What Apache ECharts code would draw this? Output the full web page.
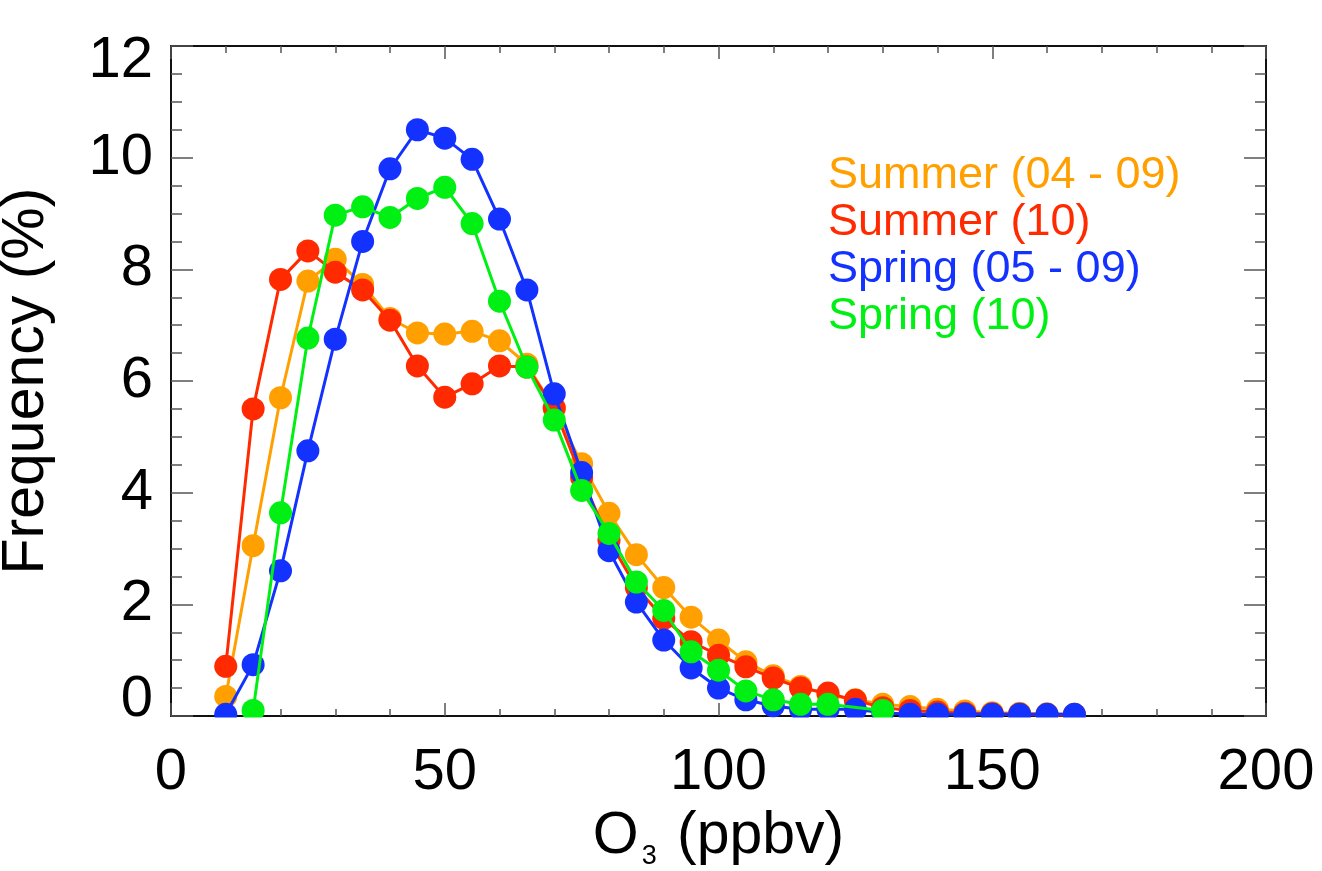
<!DOCTYPE html>
<html>
<head>
<meta charset="utf-8">
<script src="https://cdn.jsdelivr.net/npm/echarts@6/dist/echarts.min.js"></script>
<style>
html,body{margin:0;padding:0;background:#fff;}
#chart{width:1322px;height:871px;}
</style>
</head>
<body>
<div id="chart"></div>
<script>
// ---- data ----
var seriesNames = ['Summer (04 - 09)', 'Summer (10)', 'Spring (05 - 09)', 'Spring (10)'];
var seriesColors = ['#FFA000', '#FF2A00', '#1432FF', '#00F014'];

var summer0409X = [10,15,20,25,30,35,40,45,50,55,60,65,70,75,80,85,90,95,100,105,110,115,120,125,130,135,140,145,150,155,160,165];
var summer0409Y = [0.35,3.05,5.70,7.79,8.18,7.73,7.12,6.86,6.84,6.89,6.72,6.30,5.50,4.52,3.63,2.89,2.30,1.77,1.36,0.97,0.72,0.53,0.38,0.29,0.21,0.17,0.12,0.09,0.06,0.05,0.04,0.03];

var summer10X = [10,15,20,25,30,35,40,45,50,55,60,65,70,75,80,85,90,95,100,105,110,115,120,125,130,135,140,145,150,155,160,165];
var summer10Y = [0.89,5.50,7.82,8.33,7.95,7.63,7.09,6.27,5.71,5.95,6.27,6.25,5.52,4.27,3.15,2.30,1.75,1.33,1.09,0.88,0.68,0.50,0.41,0.28,0.15,0.10,0.07,0.05,0.04,0.03,0.02,0.02];

var spring0509X = [10,15,20,25,30,35,40,45,50,55,60,65,70,75,80,85,90,95,100,105,110,115,120,125,130,135,140,145,150,155,160,165];
var spring0509Y = [0.03,0.92,2.60,4.75,6.75,8.50,9.80,10.50,10.35,9.97,8.90,7.63,5.77,4.36,2.96,2.04,1.36,0.86,0.50,0.29,0.18,0.12,0.12,0.12,0.06,0.03,0.03,0.03,0.03,0.03,0.03,0.03];

var spring10X = [15,20,25,30,35,40,45,50,55,60,65,70,75,80,85,90,95,100,105,110,115,120,130];
var spring10Y = [0.10,3.64,6.77,8.97,9.12,8.93,9.27,9.47,8.82,7.43,6.25,5.30,4.04,3.27,2.40,1.89,1.15,0.82,0.45,0.29,0.21,0.21,0.10];

var xTicks = [0, 50, 100, 150, 200];
var yTicks = [0, 2, 4, 6, 8, 10, 12];

// ---- layout ----
var G = {left: 171, top: 46, right: 56, bottom: 155};
var FONT = '"Liberation Sans", Arial, Helvetica, sans-serif';

function pairs(xs, ys) { return xs.map(function (x, i) { return [x, ys[i]]; }); }
var allX = [summer0409X, summer10X, spring0509X, spring10X];
var allY = [summer0409Y, summer10Y, spring0509Y, spring10Y];

var chart = echarts.init(document.getElementById('chart'), null, {renderer: 'canvas'});

var axisLineStyle = {color: '#111', width: 2};
var tickStyle = {color: '#555', width: 1.5};

var option = {
  animation: false,
  backgroundColor: '#fff',
  grid: {left: G.left, top: G.top, right: G.right, bottom: G.bottom, containLabel: false, outerBoundsMode: 'none'},
  legend: {
    orient: 'vertical',
    left: 818,
    top: 148,
    icon: 'none',
    itemWidth: 0,
    itemHeight: 0,
    itemGap: 2,
    selectedMode: false,
    textStyle: {fontFamily: FONT, fontSize: 45},
    data: seriesNames.map(function (n, i) { return {name: n, textStyle: {color: seriesColors[i]}}; })
  },
  xAxis: [{
    type: 'value', min: xTicks[0], max: xTicks[xTicks.length - 1], interval: 50,
    position: 'bottom',
    name: '{a|O}{b|3}{a| (ppbv)}',
    nameLocation: 'middle', nameGap: 82,
    nameTextStyle: {
      rich: {
        a: {fontFamily: FONT, fontSize: 59, color: '#000', verticalAlign: 'bottom', padding: [0, 0, 4, 0]},
        b: {fontFamily: FONT, fontSize: 27, color: '#000', verticalAlign: 'bottom', padding: [0, 4, 0, 3]}
      }
    },
    axisLine: {show: true, onZero: false, lineStyle: axisLineStyle},
    axisTick: {show: true, inside: true, length: 13, lineStyle: tickStyle},
    minorTick: {show: true, splitNumber: 5, length: 7, lineStyle: tickStyle},
    axisLabel: {fontFamily: FONT, fontSize: 58, color: '#000', margin: 28},
    splitLine: {show: false}
  }, {
    type: 'value', min: xTicks[0], max: xTicks[xTicks.length - 1], interval: 50,
    position: 'top',
    axisLine: {show: true, onZero: false, lineStyle: axisLineStyle},
    axisTick: {show: true, inside: true, length: 13, lineStyle: tickStyle},
    minorTick: {show: true, splitNumber: 5, length: 7, lineStyle: tickStyle},
    axisLabel: {show: false},
    splitLine: {show: false}
  }],
  yAxis: [{
    type: 'value', min: yTicks[0], max: yTicks[yTicks.length - 1], interval: 2,
    position: 'left',
    name: 'Frequency (%)',
    nameLocation: 'middle', nameGap: 115,
    nameTextStyle: {fontFamily: FONT, fontSize: 59, color: '#000'},
    axisLine: {show: true, onZero: false, lineStyle: axisLineStyle},
    axisTick: {show: true, inside: true, length: 22, lineStyle: tickStyle},
    minorTick: {show: true, splitNumber: 4, length: 11, lineStyle: tickStyle},
    axisLabel: {
      fontFamily: FONT, fontSize: 58, color: '#000', margin: 18,
      formatter: function (v) {
        if (v === yTicks[0]) return '{lo|' + v + '}';
        if (v === yTicks[yTicks.length - 1]) return '{hi|' + v + '}';
        return String(v);
      },
      rich: {
        lo: {fontFamily: FONT, fontSize: 58, color: '#000', padding: [0, 0, 32, 0]},
        hi: {fontFamily: FONT, fontSize: 58, color: '#000', padding: [30, 0, 0, 0]}
      }
    },
    splitLine: {show: false}
  }, {
    type: 'value', min: yTicks[0], max: yTicks[yTicks.length - 1], interval: 2,
    position: 'right',
    axisLine: {show: true, onZero: false, lineStyle: axisLineStyle},
    axisTick: {show: true, inside: true, length: 22, lineStyle: tickStyle},
    minorTick: {show: true, splitNumber: 4, length: 11, lineStyle: tickStyle},
    axisLabel: {show: false},
    splitLine: {show: false}
  }],
  series: seriesNames.map(function (n, i) {
    return {
      name: n,
      type: 'line',
      xAxisIndex: 0, yAxisIndex: 0,
      data: pairs(allX[i], allY[i]),
      symbol: 'circle',
      symbolSize: 23,
      showAllSymbol: true,
      clip: true,
      z: 2 + i,
      color: seriesColors[i],
      lineStyle: {color: seriesColors[i], width: 3},
      itemStyle: {color: seriesColors[i]},
      emphasis: {disabled: true}
    };
  }),
  // white strip below the plot frame so markers are clipped at the frame, as in the original
  graphic: [{
    type: 'rect', z: 50, silent: true,
    shape: {x: G.left - 20, y: 871 - G.bottom + 1.5, width: 1322 - G.left - G.right + 40, height: 16},
    style: {fill: '#fff'}
  }]
};
chart.setOption(option);
</script>
</body>
</html>
